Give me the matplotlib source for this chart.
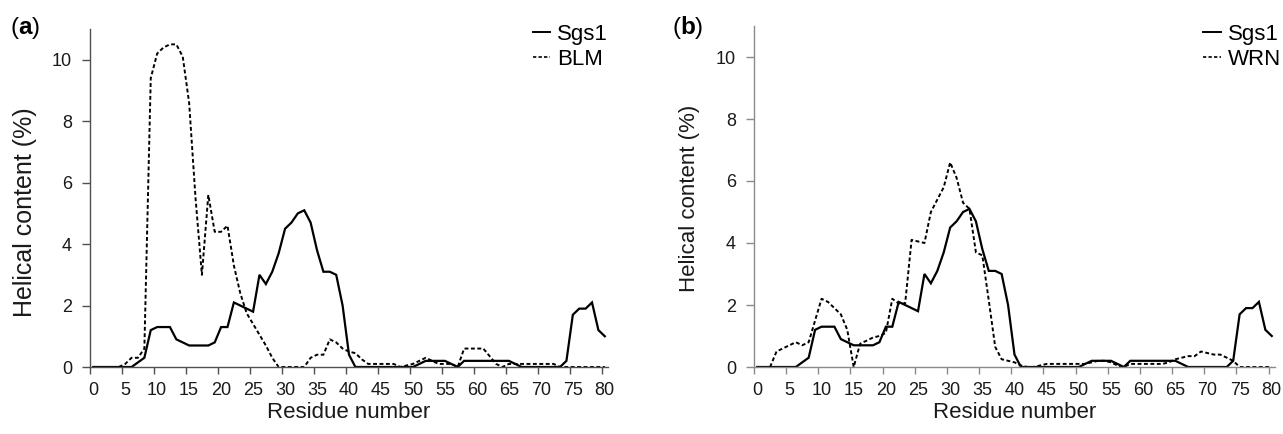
import matplotlib
matplotlib.use("Agg")
import matplotlib.pyplot as plt
from matplotlib.lines import Line2D
from matplotlib.offsetbox import TextArea, HPacker, AnchoredOffsetbox

plt.rcParams['font.family'] = ['Liberation Sans', 'DejaVu Sans']

residues = list(range(0, 81))
tick_labels = [str(v) for v in range(0, 81, 5)]

sgs1 = [0, 0, 0, 0, 0, 0, 0, 0.15, 0.3, 1.2,
        1.3, 1.3, 1.3, 0.9, 0.8, 0.7, 0.7, 0.7, 0.7, 0.8,
        1.3, 1.3, 2.1, 2.0, 1.9, 1.8, 3.0, 2.7, 3.1, 3.7,
        4.5, 4.7, 5.0, 5.1, 4.7, 3.8, 3.1, 3.1, 3.0, 2.0,
        0.4, 0, 0, 0, 0, 0, 0, 0, 0, 0,
        0, 0.1, 0.2, 0.2, 0.2, 0.2, 0.1, 0, 0.2, 0.2,
        0.2, 0.2, 0.2, 0.2, 0.2, 0.2, 0.1, 0, 0, 0,
        0, 0, 0, 0, 0.2, 1.7, 1.9, 1.9, 2.1, 1.2,
        1.0]

blm = [0, 0, 0, 0, 0, 0.1, 0.3, 0.3, 0.6, 9.4,
       10.2, 10.4, 10.5, 10.5, 10.1, 8.6, 5.5, 3.0, 5.6, 4.4,
       4.4, 4.6, 3.3, 2.4, 1.75, 1.4, 1.05, 0.7, 0.3, 0,
       0, 0, 0, 0, 0.3, 0.4, 0.4, 0.9, 0.8, 0.6,
       0.5, 0.45, 0.25, 0.1, 0.1, 0.1, 0.1, 0.1, 0, 0.05,
       0.1, 0.2, 0.3, 0.2, 0.1, 0.1, 0.1, 0, 0.6, 0.6,
       0.6, 0.6, 0.35, 0.1, 0, 0.1, 0.1, 0.1, 0.1, 0.1,
       0.1, 0.1, 0.1, 0, 0, 0, 0, 0, 0, 0,
       0]

wrn = [0, 0, 0, 0.5, 0.6, 0.7, 0.8, 0.7, 0.8, 1.5,
       2.2, 2.1, 1.9, 1.7, 1.2, 0, 0.75, 0.85, 0.95, 1.0,
       1.1, 2.2, 2.05, 2.05, 4.1, 4.05, 4.0, 5.0, 5.4, 5.8,
       6.6, 6.1, 5.3, 5.1, 3.7, 3.6, 2.15, 0.65, 0.25, 0.2,
       0.15, 0.05, 0, 0, 0.05, 0.1, 0.1, 0.1, 0.1, 0.1,
       0.1, 0.1, 0.15, 0.2, 0.2, 0.15, 0.05, 0, 0.1, 0.1,
       0.1, 0.1, 0.1, 0.1, 0.15, 0.25, 0.3, 0.35, 0.35, 0.5,
       0.45, 0.4, 0.4, 0.3, 0.2, 0, 0, 0, 0, 0,
       0]

W, H = 1283, 434
fig = plt.figure(figsize=(W / 100, H / 100), dpi=100)

def px_axes(l, r, t, b):
    return fig.add_axes([l / W, 1 - b / H, (r - l) / W, (b - t) / H])

ax1 = px_axes(90, 608, 29, 367)
ax2 = px_axes(754, 1275, 26, 367)

DASH = (2.0, 1.3)

def style(ax, color, ylab_size, ylab_xpx, ylab_ypx):
    for s in ('top', 'right'):
        ax.spines[s].set_visible(False)
    for s in ('left', 'bottom'):
        ax.spines[s].set_color(color)
        ax.spines[s].set_linewidth(1.0)
    ax.set_xlim(-0.5, 80.5)
    ax.set_ylim(0, 11)
    ax.set_yticks(range(0, 11, 2))
    ax.set_xticks(range(0, 81, 5))
    ax.set_xticklabels(tick_labels)
    ax.set_xticks([-0.5 + 5 * k for k in range(0, 17)], minor=True)
    ax.tick_params(axis='x', which='major', length=0, pad=11, labelsize=13, colors='#1a1a1a')
    ax.tick_params(axis='x', which='minor', length=5, width=1.0, color=color, direction='out')
    ax.tick_params(axis='y', which='major', length=6, width=1.0, color=color, pad=7,
                   labelsize=13, labelcolor='#1a1a1a', direction='out')
    ax.set_xlabel('Residue number', fontsize=16, labelpad=2, color='#1a1a1a')
    ax.set_ylabel('Helical content (%)', fontsize=ylab_size, color='#1a1a1a', va='center')
    ax.yaxis.set_label_coords(ylab_xpx / W, 1 - ylab_ypx / H, transform=fig.transFigure)

# Panel (a)
style(ax1, '#505050', 18, 25, 212)
ax1.plot(residues, sgs1, color='black', lw=1.6, solid_joinstyle='miter')
ax1.plot(residues, blm, color='black', lw=1.4, dashes=DASH)

# Panel (b)
style(ax2, '#8a8a8a', 16, 689, 198)
ax2.plot(residues, sgs1, color='black', lw=1.6, solid_joinstyle='miter')
ax2.plot(residues, wrn, color='black', lw=1.4, dashes=DASH)

def add_legend(ax, name2, right_px, top_px):
    handles = [Line2D([], [], color='black', lw=1.4),
               Line2D([], [], color='black', lw=1.2, dashes=DASH)]
    ax.legend(handles, ['Sgs1', name2], loc='upper right',
              bbox_to_anchor=(right_px / W, 1 - top_px / H),
              bbox_transform=fig.transFigure, frameon=False,
              fontsize=16, handlelength=0.8, handletextpad=0.3,
              labelspacing=0.18, borderpad=0, borderaxespad=0)

add_legend(ax1, 'BLM', 608, 24)
add_legend(ax2, 'WRN', 1281, 24)

for x_px, letter in ((10, 'a'), (672, 'b')):
    box = HPacker(children=[TextArea('(', textprops=dict(fontsize=17.5)),
                            TextArea(letter, textprops=dict(fontsize=17.5, fontweight='bold')),
                            TextArea(')', textprops=dict(fontsize=17.5))],
                  pad=0, sep=0)
    ab = AnchoredOffsetbox(loc='upper left', child=box, pad=0, borderpad=0, frameon=False,
                           bbox_to_anchor=(x_px / W, 1 - 16 / H), bbox_transform=fig.transFigure)
    fig.add_artist(ab)

fig.savefig('out.png', dpi=100)
